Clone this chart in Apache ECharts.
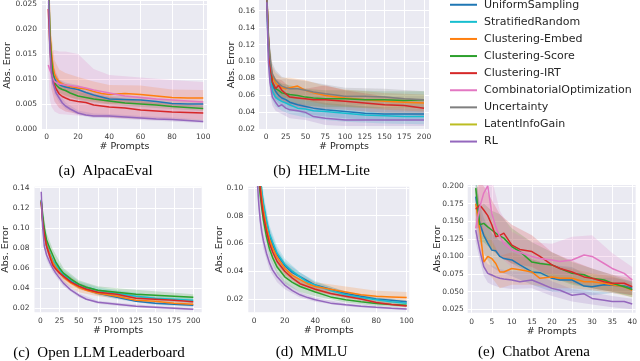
<!DOCTYPE html>
<html><head><meta charset="utf-8">
<script src="https://cdn.jsdelivr.net/npm/echarts@6/dist/echarts.min.js"></script>
<style>html,body{margin:0;padding:0;background:#fff}#c{width:640px;height:361px}</style>
</head><body><div id="c"></div>
<script>
// ---------- legend / series names ----------
const NAMES = ['UniformSampling','StratifiedRandom','Clustering-Embed','Clustering-Score','Clustering-IRT','CombinatorialOptimization','Uncertainty','LatentInfoGain','RL'];
const COLORS = ['#1f77b4','#17becf','#ff7f0e','#2ca02c','#d62728','#e377c2','#7f7f7f','#bcbd22','#9467bd'];

// ---------- (a) AlpacaEval ----------
const aX = [1,2,3,4,5,6,8,10,12,15,20,25,30,35,40,50,60,70,80,90,100];
const aUniform = [0.033,0.019,0.014,0.0115,0.0102,0.0095,0.0089,0.0086,0.0084,0.0082,0.0079,0.0073,0.0068,0.0064,0.006,0.0059,0.0058,0.0055,0.0051,0.005,0.005];
const aEmbed = [0.035,0.020,0.0155,0.0125,0.011,0.0102,0.0094,0.009,0.0088,0.0085,0.0082,0.008,0.0075,0.0071,0.0069,0.0071,0.0069,0.0066,0.0063,0.0062,0.0062];
const aScore = [0.032,0.019,0.014,0.011,0.0095,0.0088,0.0082,0.0079,0.0077,0.0072,0.0066,0.0063,0.006,0.0058,0.0056,0.0052,0.005,0.0048,0.0045,0.0043,0.0041];
const aIRT = [0.024,0.017,0.012,0.0098,0.0088,0.008,0.007,0.0065,0.0062,0.0058,0.0055,0.0053,0.0048,0.0046,0.0044,0.0042,0.0038,0.0036,0.0034,0.0033,0.0032];
const aCombo = [0.0128,0.0118,0.011,0.0102,0.0095,0.0092,0.009,0.0089,0.0088,0.0087,0.0085,0.0082,0.0078,0.0075,0.0072,0.0066,0.0063,0.006,0.0058,0.0056,0.0054];
const aRL = [0.030,0.016,0.0115,0.0092,0.0082,0.0072,0.0062,0.0052,0.0046,0.004,0.0032,0.0028,0.0026,0.0026,0.0026,0.0024,0.0022,0.002,0.0019,0.0017,0.0015];
const aBX = [1,2,3,5,8,12,20,30,40,60,80,100];
const aUniformLo = [0.029,0.0165,0.0122,0.009,0.0079,0.0075,0.007,0.006,0.0053,0.0051,0.0045,0.0044];
const aUniformHi = [0.037,0.0215,0.0158,0.0114,0.0099,0.0093,0.0088,0.0076,0.0067,0.0065,0.0057,0.0056];
const aEmbedLo = [0.03,0.016,0.012,0.0082,0.0069,0.0064,0.006,0.0055,0.005,0.0051,0.0047,0.0046];
const aEmbedHi = [0.04,0.024,0.019,0.0138,0.0119,0.0112,0.0104,0.0095,0.0088,0.0087,0.0079,0.0078];
const aScoreLo = [0.028,0.0165,0.0122,0.0083,0.0072,0.0067,0.0058,0.0053,0.0049,0.0044,0.004,0.0036];
const aScoreHi = [0.036,0.0215,0.0158,0.0107,0.0092,0.0087,0.0074,0.0067,0.0063,0.0056,0.005,0.0046];
const aIRTLo = [0.019,0.012,0.008,0.0055,0.0042,0.0035,0.003,0.0025,0.0023,0.002,0.0018,0.0017];
const aIRTHi = [0.029,0.022,0.016,0.0121,0.0098,0.0089,0.008,0.0071,0.0065,0.0056,0.005,0.0047];
const aComboLo = [0.0115,0.006,0.0045,0.0035,0.003,0.0029,0.0027,0.0025,0.0024,0.0022,0.0021,0.002];
const aComboHi = [0.0135,0.0145,0.0155,0.0158,0.0155,0.0155,0.015,0.012,0.0108,0.0103,0.0098,0.0094];
const aRLLo = [0.026,0.013,0.0095,0.0069,0.0053,0.004,0.0028,0.0022,0.0022,0.0018,0.0015,0.0012];
const aRLHi = [0.034,0.019,0.0135,0.0095,0.0071,0.0053,0.0037,0.0031,0.003,0.0026,0.0023,0.0019];
const aXTicks = [0,20,40,60,80,100];
const aYTicks = [0,0.005,0.01,0.015,0.02,0.025];

// ---------- (b) HELM-Lite ----------
const bX = [1,2,3,5,8,12,16,20,25,30,40,50,60,75,100,125,150,175,200];
const bUniform = [0.18,0.145,0.12,0.095,0.072,0.065,0.06,0.057,0.055,0.052,0.049,0.047,0.045,0.043,0.041,0.039,0.038,0.038,0.038];
const bStrat = [0.18,0.14,0.115,0.09,0.065,0.058,0.055,0.053,0.051,0.049,0.045,0.044,0.042,0.041,0.039,0.037,0.036,0.035,0.035];
const bEmbed = [0.18,0.155,0.13,0.10,0.082,0.075,0.071,0.069,0.068,0.069,0.071,0.066,0.063,0.06,0.057,0.055,0.053,0.052,0.051];
const bScore = [0.18,0.15,0.125,0.10,0.075,0.068,0.066,0.063,0.062,0.061,0.06,0.058,0.057,0.056,0.056,0.055,0.055,0.054,0.055];
const bIRT = [0.18,0.15,0.125,0.095,0.076,0.068,0.072,0.066,0.062,0.058,0.057,0.056,0.055,0.055,0.053,0.051,0.049,0.048,0.045];
const bUnc = [0.18,0.155,0.13,0.105,0.085,0.078,0.074,0.071,0.069,0.068,0.068,0.066,0.064,0.062,0.059,0.059,0.058,0.056,0.055];
const bRL = [0.17,0.13,0.10,0.075,0.058,0.052,0.047,0.049,0.045,0.043,0.042,0.040,0.035,0.033,0.031,0.031,0.031,0.031,0.031];
const bBX = [1,2,3,5,8,12,20,30,50,75,100,150,200];
const bUniformLo = [0.16,0.125,0.103,0.08,0.06,0.054,0.047,0.043,0.038,0.035,0.033,0.03,0.03];
const bUniformHi = [0.2,0.165,0.137,0.11,0.084,0.076,0.067,0.061,0.056,0.051,0.049,0.046,0.046];
const bStratLo = [0.16,0.12,0.098,0.076,0.054,0.047,0.042,0.038,0.034,0.031,0.029,0.027,0.026];
const bStratHi = [0.2,0.16,0.132,0.104,0.076,0.069,0.064,0.06,0.054,0.051,0.049,0.045,0.044];
const bEmbedLo = [0.16,0.135,0.112,0.085,0.069,0.063,0.057,0.057,0.054,0.049,0.047,0.043,0.041];
const bEmbedHi = [0.2,0.175,0.148,0.115,0.095,0.087,0.081,0.081,0.078,0.071,0.067,0.063,0.061];
const bScoreLo = [0.16,0.13,0.107,0.085,0.062,0.056,0.052,0.05,0.048,0.046,0.046,0.045,0.045];
const bScoreHi = [0.2,0.17,0.143,0.115,0.088,0.08,0.074,0.072,0.068,0.066,0.066,0.065,0.065];
const bIRTLo = [0.16,0.13,0.107,0.08,0.063,0.056,0.054,0.047,0.045,0.044,0.043,0.039,0.036];
const bIRTHi = [0.2,0.17,0.143,0.11,0.089,0.08,0.078,0.07,0.068,0.072,0.066,0.059,0.055];
const bUncLo = [0.16,0.135,0.112,0.09,0.072,0.066,0.06,0.057,0.055,0.051,0.049,0.048,0.045];
const bUncHi = [0.2,0.175,0.148,0.12,0.098,0.09,0.082,0.079,0.077,0.073,0.069,0.068,0.065];
const bRLLo = [0.15,0.11,0.085,0.063,0.048,0.042,0.038,0.033,0.031,0.025,0.024,0.024,0.024];
const bRLHi = [0.19,0.15,0.115,0.087,0.068,0.062,0.06,0.053,0.049,0.041,0.038,0.038,0.038];
const bXTicks = [0,25,50,75,100,125,150,175,200];
const bYTicks = [0.02,0.04,0.06,0.08,0.10,0.12,0.14,0.16];

// ---------- (c) Open LLM Leaderboard ----------
const cX = [1,2,3,5,8,12,16,20,25,30,40,50,60,75,100,125,150,175,200];
const cUniform = [0.127,0.116,0.107,0.094,0.082,0.074,0.066,0.061,0.057,0.053,0.047,0.042,0.039,0.035,0.031,0.027,0.025,0.024,0.023];
const cStrat = [0.127,0.117,0.108,0.095,0.083,0.075,0.068,0.063,0.058,0.054,0.048,0.044,0.041,0.038,0.035,0.032,0.030,0.029,0.028];
const cEmbed = [0.126,0.114,0.105,0.093,0.082,0.074,0.066,0.061,0.056,0.051,0.045,0.041,0.038,0.035,0.032,0.028,0.027,0.025,0.024];
const cScore = [0.128,0.120,0.112,0.100,0.088,0.080,0.073,0.066,0.060,0.055,0.049,0.044,0.041,0.038,0.036,0.034,0.033,0.032,0.031];
const cIRT = [0.126,0.115,0.106,0.094,0.082,0.072,0.063,0.059,0.055,0.052,0.046,0.042,0.039,0.036,0.034,0.030,0.029,0.028,0.0265];
const cRL = [0.136,0.115,0.100,0.082,0.073,0.066,0.060,0.055,0.050,0.045,0.038,0.033,0.029,0.026,0.024,0.022,0.021,0.020,0.019];
const cBX = [1,3,8,16,30,50,75,100,150,200];
const cUniformLo = [0.121,0.101,0.078,0.062,0.05,0.04,0.033,0.029,0.0235,0.0215];
const cUniformHi = [0.133,0.113,0.086,0.07,0.056,0.044,0.037,0.033,0.0265,0.0245];
const cStratLo = [0.121,0.102,0.078,0.064,0.05,0.041,0.035,0.032,0.027,0.025];
const cStratHi = [0.133,0.114,0.088,0.072,0.058,0.047,0.041,0.038,0.033,0.031];
const cEmbedLo = [0.12,0.099,0.077,0.061,0.046,0.036,0.032,0.03,0.025,0.022];
const cEmbedHi = [0.132,0.111,0.087,0.071,0.056,0.046,0.038,0.034,0.029,0.026];
const cScoreLo = [0.12,0.104,0.081,0.067,0.05,0.04,0.034,0.032,0.029,0.028];
const cScoreHi = [0.136,0.12,0.095,0.079,0.06,0.048,0.042,0.04,0.037,0.034];
const cIRTLo = [0.12,0.1,0.077,0.059,0.049,0.039,0.034,0.032,0.0275,0.025];
const cIRTHi = [0.132,0.112,0.087,0.067,0.055,0.045,0.038,0.036,0.0305,0.028];
const cRLLo = [0.13,0.094,0.068,0.056,0.042,0.031,0.0245,0.0225,0.0198,0.018];
const cRLHi = [0.142,0.106,0.078,0.064,0.048,0.035,0.0275,0.0255,0.0222,0.02];
const cXTicks = [0,25,50,75,100,125,150,175,200];
const cYTicks = [0.02,0.04,0.06,0.08,0.10,0.12,0.14];

// ---------- (d) MMLU ----------
const dX = [1,2,3,4,5,6,8,10,12,15,20,25,30,35,40,50,60,70,80,90,100];
const dUniform = [0.15,0.13,0.117,0.105,0.095,0.087,0.075,0.066,0.059,0.052,0.044,0.039,0.036,0.033,0.030,0.027,0.024,0.022,0.020,0.019,0.018];
const dStrat = [0.155,0.135,0.12,0.108,0.097,0.089,0.077,0.067,0.061,0.053,0.045,0.040,0.036,0.032,0.030,0.026,0.023,0.021,0.0195,0.018,0.017];
const dEmbed = [0.15,0.13,0.115,0.102,0.092,0.084,0.072,0.063,0.057,0.050,0.042,0.037,0.034,0.031,0.029,0.027,0.025,0.023,0.022,0.0215,0.021];
const dScore = [0.14,0.12,0.105,0.094,0.085,0.077,0.065,0.056,0.050,0.043,0.036,0.032,0.029,0.027,0.025,0.0215,0.0195,0.018,0.0168,0.016,0.0155];
const dIRT = [0.145,0.125,0.11,0.098,0.088,0.080,0.069,0.060,0.054,0.047,0.040,0.035,0.031,0.029,0.027,0.024,0.022,0.020,0.0175,0.016,0.015];
const dRL = [0.13,0.105,0.088,0.076,0.068,0.062,0.053,0.046,0.041,0.036,0.030,0.026,0.023,0.021,0.0195,0.017,0.0158,0.0148,0.014,0.0133,0.0127];
const dBX = [1,2,4,6,10,15,20,30,40,60,80,100];
const dUniformLo = [0.14,0.121,0.098,0.081,0.061,0.048,0.041,0.033,0.028,0.0225,0.0187,0.0168];
const dUniformHi = [0.16,0.139,0.112,0.093,0.071,0.056,0.047,0.039,0.032,0.0255,0.0213,0.0192];
const dStratLo = [0.145,0.125,0.1,0.082,0.061,0.048,0.041,0.033,0.027,0.021,0.018,0.0158];
const dStratHi = [0.165,0.145,0.116,0.096,0.073,0.058,0.049,0.039,0.033,0.025,0.021,0.0182];
const dEmbedLo = [0.14,0.121,0.095,0.078,0.058,0.046,0.038,0.031,0.026,0.021,0.018,0.017];
const dEmbedHi = [0.16,0.139,0.109,0.09,0.068,0.054,0.046,0.037,0.032,0.029,0.026,0.025];
const dScoreLo = [0.13,0.11,0.086,0.07,0.05,0.038,0.031,0.025,0.022,0.0175,0.015,0.014];
const dScoreHi = [0.15,0.13,0.102,0.084,0.062,0.048,0.041,0.033,0.028,0.0215,0.0186,0.017];
const dIRTLo = [0.135,0.116,0.091,0.074,0.055,0.043,0.037,0.029,0.025,0.0205,0.0163,0.014];
const dIRTHi = [0.155,0.134,0.105,0.086,0.065,0.051,0.043,0.033,0.029,0.0235,0.0187,0.016];
const dRLLo = [0.12,0.096,0.069,0.056,0.041,0.032,0.027,0.021,0.018,0.0148,0.0132,0.012];
const dRLHi = [0.14,0.114,0.083,0.068,0.051,0.04,0.033,0.025,0.021,0.0168,0.0148,0.0134];
const dXTicks = [0,20,40,60,80,100];
const dYTicks = [0.02,0.04,0.06,0.08,0.10];

// ---------- (e) Chatbot Arena ----------
const eX = [1,2,3,4,5,6,7,8,10,12,15,17,20,22,25,28,30,33,35,38,40];
const eUniform = [0.185,0.147,0.13,0.119,0.109,0.108,0.10,0.097,0.095,0.088,0.078,0.077,0.069,0.0666,0.0666,0.058,0.057,0.06,0.059,0.058,0.055];
const eEmbed = [0.175,0.14,0.092,0.10,0.097,0.09,0.078,0.078,0.083,0.081,0.078,0.069,0.071,0.069,0.069,0.064,0.064,0.062,0.06,0.057,0.052];
const eScore = [0.197,0.145,0.147,0.142,0.1375,0.133,0.129,0.126,0.114,0.107,0.092,0.090,0.088,0.083,0.076,0.074,0.069,0.0666,0.062,0.057,0.053];
const eIRT = [0.167,0.173,0.166,0.158,0.145,0.128,0.130,0.133,0.116,0.110,0.107,0.100,0.088,0.083,0.078,0.071,0.069,0.064,0.062,0.062,0.057];
const eCombo = [0.14,0.17,0.19,0.20,0.161,0.142,0.128,0.119,0.109,0.106,0.100,0.097,0.095,0.093,0.095,0.102,0.100,0.090,0.083,0.076,0.0666];
const eRL = [0.1375,0.109,0.0855,0.076,0.0737,0.071,0.069,0.068,0.0666,0.064,0.0666,0.062,0.0547,0.052,0.045,0.047,0.0405,0.038,0.036,0.036,0.0325];
const eBX = [1,2,3,4,5,7,10,15,20,25,30,35,40];
const eUniformLo = [0.16,0.12,0.105,0.095,0.085,0.078,0.072,0.06,0.05,0.048,0.045,0.048,0.045];
const eUniformHi = [0.21,0.175,0.155,0.143,0.133,0.122,0.118,0.096,0.088,0.085,0.069,0.07,0.065];
const eEmbedLo = [0.15,0.11,0.085,0.075,0.07,0.055,0.06,0.06,0.055,0.055,0.052,0.048,0.042];
const eEmbedHi = [0.2,0.17,0.135,0.125,0.124,0.101,0.106,0.096,0.087,0.083,0.076,0.072,0.062];
const eScoreLo = [0.17,0.12,0.12,0.115,0.11,0.1,0.09,0.075,0.07,0.06,0.055,0.05,0.042];
const eScoreHi = [0.22,0.17,0.175,0.17,0.165,0.16,0.14,0.12,0.106,0.092,0.083,0.074,0.064];
const eIRTLo = [0.14,0.14,0.13,0.12,0.11,0.1,0.09,0.085,0.07,0.062,0.055,0.05,0.045];
const eIRTHi = [0.195,0.205,0.2,0.19,0.18,0.16,0.145,0.13,0.106,0.094,0.083,0.074,0.069];
const eComboLo = [0.12,0.13,0.135,0.14,0.12,0.1,0.085,0.08,0.075,0.072,0.075,0.065,0.05];
const eComboHi = [0.16,0.21,0.24,0.25,0.21,0.165,0.135,0.12,0.118,0.128,0.13,0.105,0.085];
const eRLLo = [0.12,0.095,0.073,0.063,0.06,0.056,0.054,0.055,0.044,0.036,0.032,0.028,0.025];
const eRLHi = [0.155,0.123,0.098,0.089,0.087,0.082,0.079,0.078,0.065,0.054,0.049,0.044,0.04];
const eXTicks = [0,5,10,15,20,25,30,35,40];
const eYTicks = [0.025,0.05,0.075,0.1,0.125,0.15,0.175,0.2];

// ---------- panel assembly ----------
const panels = [
  {x:aX, bx:aBX, xt:aXTicks, yt:aYTicks, dec:3, caption:'(a)  AlpacaEval',
   grid:{left:42, top:0, width:165, height:130}, xr:[-3,102.4], yr:[-0.0002,0.0256], ygap:29, xgap:12, lmX:3, lmY:5,
   cap:[105.5,171],
   s:{'UniformSampling':[aUniform,aUniformLo,aUniformHi],'Clustering-Embed':[aEmbed,aEmbedLo,aEmbedHi],'Clustering-Score':[aScore,aScoreLo,aScoreHi],'Clustering-IRT':[aIRT,aIRTLo,aIRTHi],'CombinatorialOptimization':[aCombo,aComboLo,aComboHi],'LatentInfoGain':[[],[],[]],'RL':[aRL,aRLLo,aRLHi]}},
  {x:bX, bx:bBX, xt:bXTicks, yt:bYTicks, dec:2, caption:'(b)  HELM-Lite',
   grid:{left:259, top:0, width:170, height:130}, xr:[-8.9,206.3], yr:[0.0192,0.1726], ygap:22.5, xgap:12, lmX:3, lmY:4,
   cap:[321.5,171],
   s:{'UniformSampling':[bUniform,bUniformLo,bUniformHi],'StratifiedRandom':[bStrat,bStratLo,bStratHi],'Clustering-Embed':[bEmbed,bEmbedLo,bEmbedHi],'Clustering-Score':[bScore,bScoreLo,bScoreHi],'Clustering-IRT':[bIRT,bIRTLo,bIRTHi],'Uncertainty':[bUnc,bUncLo,bUncHi],'RL':[bRL,bRLLo,bRLHi]}},
  {x:cX, bx:cBX, xt:cXTicks, yt:cYTicks, dec:2, caption:'(c)  Open LLM Leaderboard',
   grid:{left:33.3, top:186.7, width:168.4, height:125.6}, xr:[-7.8,211], yr:[0.016,0.141], ygap:23.5, xgap:13.5, lmX:5, lmY:5,
   cap:[99,352.7],
   s:{'UniformSampling':[cUniform,cUniformLo,cUniformHi],'StratifiedRandom':[cStrat,cStratLo,cStratHi],'Clustering-Embed':[cEmbed,cEmbedLo,cEmbedHi],'Clustering-Score':[cScore,cScoreLo,cScoreHi],'Clustering-IRT':[cIRT,cIRTLo,cIRTHi],'RL':[cRL,cRLLo,cRLHi]}},
  {x:dX, bx:dBX, xt:dXTicks, yt:dYTicks, dec:2, caption:'(d)  MMLU',
   grid:{left:248.3, top:186.7, width:161, height:125.6}, xr:[-3.9,101.7], yr:[0.0104,0.1009], ygap:23.5, xgap:13.5, lmX:5, lmY:5,
   cap:[311.7,352],
   s:{'UniformSampling':[dUniform,dUniformLo,dUniformHi],'StratifiedRandom':[dStrat,dStratLo,dStratHi],'Clustering-Embed':[dEmbed,dEmbedLo,dEmbedHi],'Clustering-Score':[dScore,dScoreLo,dScoreHi],'Clustering-IRT':[dIRT,dIRTLo,dIRTHi],'RL':[dRL,dRLLo,dRLHi]}},
  {x:eX, bx:eBX, xt:eXTicks, yt:eYTicks, dec:3, caption:'(e)  Chatbot Arena',
   grid:{left:467.7, top:185, width:168, height:127.7}, xr:[-1,40.85], yr:[0.0202,0.2014], ygap:25, xgap:13.5, lmX:5, lmY:4,
   cap:[534,352],
   s:{'UniformSampling':[eUniform,eUniformLo,eUniformHi],'Clustering-Embed':[eEmbed,eEmbedLo,eEmbedHi],'Clustering-Score':[eScore,eScoreLo,eScoreHi],'Clustering-IRT':[eIRT,eIRTLo,eIRTHi],'CombinatorialOptimization':[eCombo,eComboLo,eComboHi],'RL':[eRL,eRLLo,eRLHi]}}
];

const TICK_FONT = {fontFamily:'DejaVu Sans', fontSize:7.5, color:'#3a3a3a'};
const NAME_FONT = {fontFamily:'DejaVu Sans', fontSize:9.5, color:'#262626'};

function bandRenderer(bx, lo, hi, col) {
  return function (params, api) {
    if (params.dataIndex !== 0) return null;
    const pts = [];
    for (let j = 0; j < bx.length; j++) pts.push(api.coord([bx[j], hi[j]]));
    for (let j = bx.length - 1; j >= 0; j--) pts.push(api.coord([bx[j], lo[j]]));
    const cs = params.coordSys;
    return {type:'polygon', shape:{points:pts}, style:{fill:col, opacity:0.2},
      clipPath:{type:'rect', shape:{x:cs.x, y:cs.y, width:cs.width, height:cs.height}}};
  };
}

const grid = [], xAxis = [], yAxis = [], bandSeries = [], lineSeries = [], graphic = [];
panels.forEach((p, i) => {
  grid.push(Object.assign({show:true, backgroundColor:'#EAEAF2', borderWidth:0}, p.grid));
  xAxis.push({type:'value', gridIndex:i, min:p.xr[0], max:p.xr[1],
    name:'# Prompts', nameLocation:'middle', nameGap:p.xgap, nameMoveOverlap:false, nameTextStyle:NAME_FONT,
    axisLine:{show:false}, axisTick:{show:false, customValues:p.xt},
    axisLabel:Object.assign({customValues:p.xt, margin:p.lmX}, TICK_FONT),
    splitLine:{show:true, lineStyle:{color:'#ffffff', width:1}}});
  yAxis.push({type:'value', gridIndex:i, min:p.yr[0], max:p.yr[1],
    name:'Abs. Error', nameLocation:'middle', nameGap:p.ygap, nameMoveOverlap:false, nameTextStyle:NAME_FONT,
    axisLine:{show:false}, axisTick:{show:false, customValues:p.yt},
    axisLabel:Object.assign({customValues:p.yt, margin:p.lmY, formatter:(v)=>v.toFixed(p.dec)}, TICK_FONT),
    splitLine:{show:true, lineStyle:{color:'#ffffff', width:1}}});
  NAMES.forEach((name, k) => {
    const d = p.s[name];
    if (!d) return;
    const col = COLORS[k];
    const [mean, lo, hi] = d;
    if (lo.length) {
      bandSeries.push({type:'custom', name:name + ' band', xAxisIndex:i, yAxisIndex:i, silent:true, z:2,
        data:p.bx.map((x, j) => [x, lo[j], hi[j]]), encode:{x:0, y:[1,2]},
        renderItem:bandRenderer(p.bx, lo, hi, col), animation:false});
    }
    lineSeries.push({type:'line', name:name, xAxisIndex:i, yAxisIndex:i,
      data:p.x.map((x, j) => [x, mean[j]]).filter(q => q[1] !== undefined), showSymbol:false, symbol:'none',
      color:col, itemStyle:{color:col}, lineStyle:{color:col, width:1.5}, z:3, animation:false});
  });
  graphic.push({type:'text', x:p.cap[0], y:p.cap[1],
    style:{text:p.caption, font:'15px "Liberation Serif"', fill:'#000', align:'center', verticalAlign:'middle', textAlign:'center', textVerticalAlign:'middle'}});
});

const chart = echarts.init(document.getElementById('c'), null, {renderer:'canvas'});
chart.setOption({
  animation:false,
  backgroundColor:'#ffffff',
  grid, xAxis, yAxis,
  legend:{data:NAMES.map(n => ({name:n, icon:'rect'})), orient:'vertical', left:450, top:-3.8, padding:0,
    itemWidth:27, itemHeight:2, itemGap:0, selectedMode:false,
    textStyle:{fontFamily:'DejaVu Sans', fontSize:11, color:'#262626', lineHeight:17.1, padding:[0,0,0,2]}},
  graphic,
  series: bandSeries.concat(lineSeries)
});
</script></body></html>
